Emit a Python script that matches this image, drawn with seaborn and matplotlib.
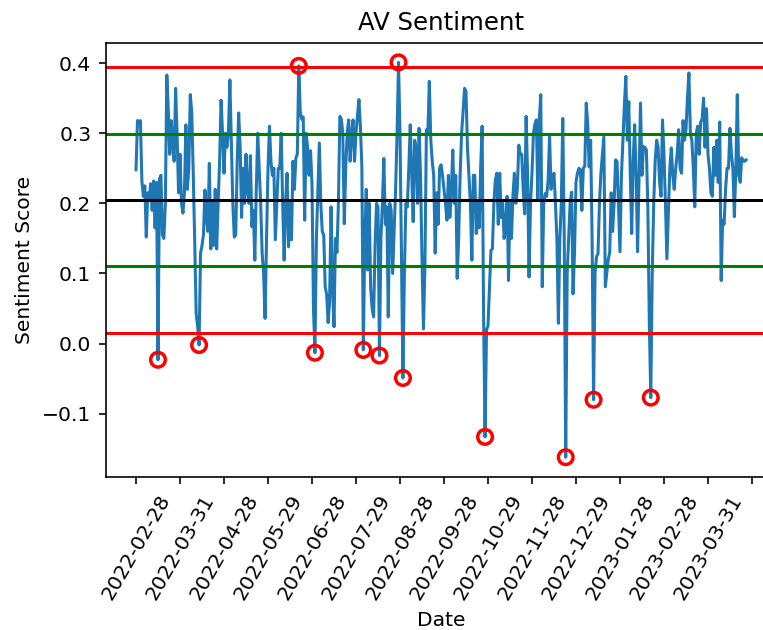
import numpy as np
import pandas as pd
import matplotlib
matplotlib.use("Agg")
import matplotlib.pyplot as plt
import seaborn as sns

# Dates shown on the x axis, one every 30 observations
tick_labels = [
    "2022-02-28", "2022-03-31", "2022-04-28", "2022-05-29", "2022-06-28",
    "2022-07-29", "2022-08-28", "2022-09-28", "2022-10-29", "2022-11-28",
    "2022-12-29", "2023-01-28", "2023-02-28", "2023-03-31",
]

# Daily sentiment scores
scores = [
    0.248, 0.318, 0.315, 0.318, 0.232, 0.210, 0.225, 0.152, 0.215, 0.205,
    0.228, 0.190, 0.232, 0.165, 0.230, -0.023, 0.235, 0.240, 0.155, 0.150,
    0.200, 0.383, 0.333, 0.270, 0.318, 0.285, 0.260, 0.364, 0.300, 0.215,
    0.270, 0.200, 0.186, 0.215, 0.312, 0.220, 0.250, 0.355, 0.330, 0.245,
    0.148, 0.043, 0.025, -0.002, 0.129, 0.140, 0.155, 0.219, 0.180, 0.160,
    0.257, 0.135, 0.200, 0.140, 0.220, 0.135, 0.200, 0.260, 0.347, 0.300,
    0.243, 0.300, 0.280, 0.300, 0.376, 0.290, 0.200, 0.152, 0.155, 0.260,
    0.329, 0.280, 0.180, 0.250, 0.200, 0.270, 0.220, 0.200, 0.268, 0.167,
    0.190, 0.119, 0.220, 0.300, 0.250, 0.200, 0.129, 0.100, 0.036, 0.150,
    0.250, 0.310, 0.260, 0.240, 0.250, 0.148, 0.200, 0.250, 0.250, 0.300,
    0.200, 0.119, 0.200, 0.243, 0.138, 0.200, 0.148, 0.260, 0.220, 0.265,
    0.270, 0.396, 0.330, 0.320, 0.323, 0.176, 0.300, 0.280, 0.240, 0.275,
    0.228, 0.050, -0.013, 0.150, 0.220, 0.286, 0.200, 0.160, 0.155, 0.081,
    0.070, 0.030, 0.060, 0.195, 0.080, 0.024, 0.150, 0.130, 0.200, 0.324,
    0.320, 0.300, 0.171, 0.250, 0.300, 0.319, 0.260, 0.300, 0.319, 0.260,
    0.300, 0.325, 0.348, 0.310, 0.252, -0.009, 0.150, 0.220, 0.105, 0.200,
    0.080, 0.050, 0.038, 0.140, 0.200, 0.195, -0.017, 0.150, 0.200, 0.264,
    0.170, 0.195, 0.038, 0.200, 0.190, 0.100, 0.160, 0.220, 0.300, 0.401,
    0.300, 0.120, -0.049, 0.100, 0.200, 0.195, 0.250, 0.312, 0.240, 0.174,
    0.290, 0.280, 0.200, 0.307, 0.240, 0.120, 0.021, 0.110, 0.305, 0.300,
    0.374, 0.290, 0.260, 0.240, 0.129, 0.215, 0.170, 0.250, 0.255, 0.240,
    0.220, 0.200, 0.176, 0.240, 0.180, 0.220, 0.276, 0.200, 0.240, 0.093,
    0.150, 0.240, 0.300, 0.330, 0.364, 0.360, 0.280, 0.240, 0.200, 0.119,
    0.240, 0.240, 0.157, 0.200, 0.165, 0.250, 0.310, 0.040, -0.133, 0.020,
    0.025, 0.080, 0.133, 0.135, 0.200, 0.233, 0.243, 0.170, 0.243, 0.180,
    0.200, 0.150, 0.170, 0.210, 0.090, 0.200, 0.150, 0.210, 0.243, 0.200,
    0.220, 0.283, 0.270, 0.270, 0.220, 0.185, 0.324, 0.240, 0.095, 0.200,
    0.243, 0.300, 0.313, 0.319, 0.205, 0.320, 0.355, 0.081, 0.200, 0.214,
    0.210, 0.233, 0.295, 0.220, 0.234, 0.243, 0.200, 0.148, 0.029, 0.150,
    0.200, 0.321, 0.150, -0.162, 0.100, 0.150, 0.200, 0.216, 0.071, 0.130,
    0.230, 0.243, 0.250, 0.248, 0.190, 0.250, 0.253, 0.343, 0.314, 0.252,
    0.290, 0.148, -0.080, 0.100, 0.124, 0.128, 0.200, 0.243, 0.270, 0.295,
    0.081, 0.100, 0.120, 0.130, 0.215, 0.160, 0.200, 0.262, 0.260, 0.195,
    0.131, 0.240, 0.290, 0.340, 0.381, 0.290, 0.345, 0.243, 0.157, 0.260,
    0.312, 0.240, 0.131, 0.240, 0.343, 0.240, 0.281, 0.280, 0.276, 0.195,
    0.030, -0.077, 0.100, 0.200, 0.260, 0.290, 0.280, 0.230, 0.210, 0.319,
    0.270, 0.200, 0.121, 0.185, 0.250, 0.279, 0.240, 0.220, 0.250, 0.270,
    0.305, 0.250, 0.243, 0.318, 0.290, 0.305, 0.350, 0.386, 0.300, 0.290,
    0.250, 0.195, 0.300, 0.310, 0.270, 0.316, 0.320, 0.350, 0.280, 0.335,
    0.270, 0.250, 0.215, 0.210, 0.280, 0.240, 0.290, 0.230, 0.316, 0.090,
    0.176, 0.170, 0.220, 0.250, 0.250, 0.307, 0.270, 0.250, 0.181, 0.250,
    0.355, 0.240, 0.230, 0.265, 0.260, 0.260, 0.262,
]

# Reference levels: mean and standard deviation of the score series
mean_score = 0.2047
std_score = 0.0946

df = pd.DataFrame({"pos": np.arange(len(scores)), "score": scores})
upper2 = mean_score + 2 * std_score
lower2 = mean_score - 2 * std_score
outliers = df[(df["score"] > upper2) | (df["score"] < lower2)]

DPI = 146
fig = plt.figure(figsize=(764 / DPI, 630 / DPI), dpi=DPI)
ax = fig.add_axes([0.1381, 0.2429, 0.8784, 0.6894])

sns.lineplot(data=df, x="pos", y="score", ax=ax, color="#1f77b4", linewidth=1.5)

levels = [
    (mean_score, "black"),
    (mean_score + std_score, "green"),
    (mean_score - std_score, "green"),
    (upper2, "red"),
    (lower2, "red"),
]
for level, colour in levels:
    ax.axhline(level, color=colour, linewidth=1.5)

sns.scatterplot(data=outliers, x="pos", y="score", ax=ax, marker="o", s=52,
                facecolor="none", edgecolor="red", linewidth=1.7, zorder=4)

ticks = np.arange(0, len(scores) + 4, 30)
ax.set_xticks(ticks)
ax.set_xticklabels(tick_labels + [""] * (len(ticks) - len(tick_labels)), rotation=60)

ax.set_title("AV Sentiment")
ax.set_xlabel("Date")
ax.set_ylabel("Sentiment Score")

fig.savefig("out.png", dpi=DPI)
